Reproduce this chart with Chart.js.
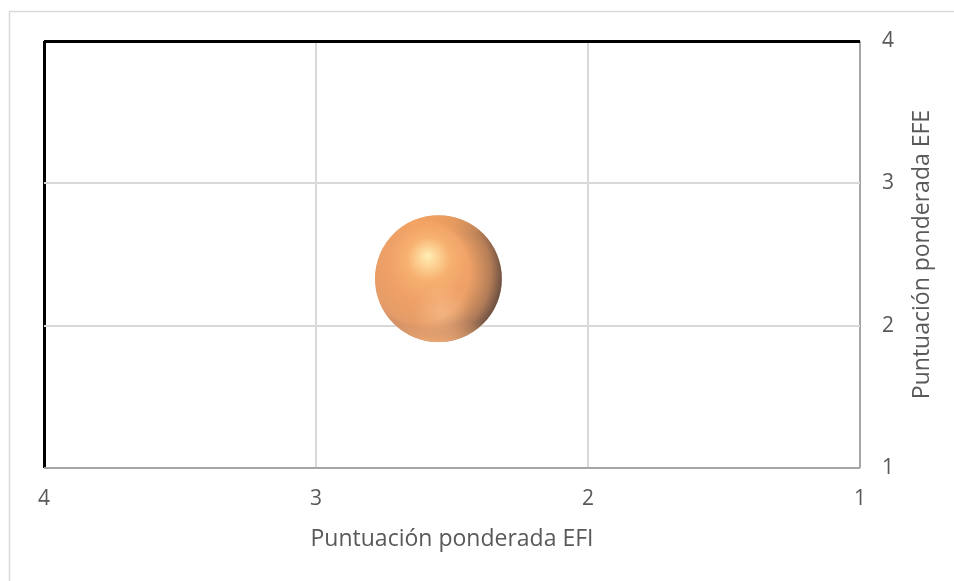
<!DOCTYPE html>
<html>
<head>
<meta charset="utf-8">
<title>Matriz EFI / EFE</title>
<script src="https://cdn.jsdelivr.net/npm/chart.js@4"></script>
<style>
  html, body { margin: 0; padding: 0; background: #ffffff; }
  #wrap { position: relative; width: 954px; height: 581px; }
</style>
</head>
<body>
<div id="wrap"><canvas id="chart" width="954" height="581"></canvas></div>
<script>
// Weighted scores: internal factors (EFI) on x, external factors (EFE) on y
const efiScores = [2.55];
const efeScores = [2.33];
const bubbleRadius = [63.5];
const xTickValues = [4, 3, 2, 1];
const yTickValues = [1, 2, 3, 4];
const xTitle = 'Puntuación ponderada EFI';
const yTitle = 'Puntuación ponderada EFE';

const FONT = '"Open Sans", "Noto Sans", sans-serif';
const TEXT = '#595959';

const points = efiScores.map((x, i) => ({ x, y: efeScores[i], r: bubbleRadius[i] }));

// Glossy sphere shading, painted over each bubble element at its own position
const sphere = {
  id: 'sphere',
  afterDatasetsDraw(chart) {
    const c = chart.ctx;
    chart.getDatasetMeta(0).data.forEach(el => {
      const r = el.options.radius;
      const x = el.x, y = el.y;
      c.save();
      c.beginPath();
      c.arc(x, y, r, 0, Math.PI * 2);
      c.clip();

      // body with highlight
      let g = c.createRadialGradient(x - r * 0.17, y - r * 0.36, 0, x - r * 0.12, y - r * 0.2, r * 1.15);
      g.addColorStop(0, '#FFEDAE');
      g.addColorStop(0.12, '#FDD292');
      g.addColorStop(0.3, '#F6AC68');
      g.addColorStop(0.55, '#EE9C5E');
      g.addColorStop(0.8, '#E6985F');
      g.addColorStop(1, '#D89065');
      c.globalAlpha = 0.95;
      c.fillStyle = g;
      c.fillRect(x - r, y - r, r * 2, r * 2);
      c.globalAlpha = 1;

      // darker limb, strongest on the right
      g = c.createRadialGradient(x - r * 0.3, y - r * 0.1, 0, x - r * 0.3, y - r * 0.1, r * 1.32);
      g.addColorStop(0, 'rgba(70,55,48,0)');
      g.addColorStop(0.6, 'rgba(70,55,48,0)');
      g.addColorStop(0.85, 'rgba(70,55,48,0.3)');
      g.addColorStop(1, 'rgba(60,50,45,0.72)');
      c.fillStyle = g;
      c.fillRect(x - r, y - r, r * 2, r * 2);

      // soft reflection low on the sphere
      g = c.createRadialGradient(x + r * 0.05, y + r * 0.52, 0, x + r * 0.05, y + r * 0.52, r * 0.45);
      g.addColorStop(0, 'rgba(255,205,160,0.45)');
      g.addColorStop(1, 'rgba(255,205,160,0)');
      c.fillStyle = g;
      c.fillRect(x - r, y - r, r * 2, r * 2);

      // light bottom rim
      g = c.createLinearGradient(0, y + r * 0.68, 0, y + r);
      g.addColorStop(0, 'rgba(248,176,118,0)');
      g.addColorStop(1, 'rgba(248,176,118,0.85)');
      c.fillStyle = g;
      c.fillRect(x - r, y + r * 0.68, r * 2, r * 0.32);

      // bright top rim
      g = c.createLinearGradient(0, y - r, 0, y - r * 0.7);
      g.addColorStop(0, 'rgba(248,165,95,0.7)');
      g.addColorStop(1, 'rgba(248,165,95,0)');
      c.fillStyle = g;
      c.fillRect(x - r, y - r, r * 2, r * 0.3);
      c.restore();
    });
  }
};

// Outer frame and axis titles
const frame = {
  id: 'frame',
  beforeDraw(chart) {
    const c = chart.ctx;
    c.save();
    c.strokeStyle = '#D9D9D9';
    c.lineWidth = 1.5;
    c.strokeRect(9.5, 11.5, 960, 600);
    c.restore();
  },
  afterDraw(chart) {
    const a = chart.chartArea;
    const c = chart.ctx;
    c.save();
    c.fillStyle = TEXT;
    c.font = '23px ' + FONT;
    c.textAlign = 'center';
    c.textBaseline = 'middle';
    c.fillText(xTitle, (a.left + a.right) / 2, 539);
    c.translate(922, (a.top + a.bottom) / 2);
    c.rotate(-Math.PI / 2);
    c.fillText(yTitle, 0, 0);
    c.restore();
  }
};

const gridColor = ctx => ctx.tick && ctx.tick.value === 4 ? '#000000' : (ctx.tick && ctx.tick.value === 1 ? '#A6A6A6' : '#D9D9D9');
const gridWidth = ctx => ctx.tick && ctx.tick.value === 4 ? 3 : 2;

new Chart(document.getElementById('chart'), {
  type: 'bubble',
  data: {
    datasets: [{
      data: points,
      backgroundColor: 'rgba(0,0,0,0)',
      borderWidth: 0,
      hoverBorderWidth: 0
    }]
  },
  options: {
    responsive: false,
    animation: false,
    events: [],
    layout: { autoPadding: false, padding: { left: 44, top: 41, right: 0, bottom: 0 } },
    plugins: { legend: { display: false }, tooltip: { enabled: false } },
    scales: {
      x: {
        type: 'linear',
        position: 'bottom',
        reverse: true,
        min: 1, max: 4,
        afterBuildTicks(axis) { axis.ticks = xTickValues.map(v => ({ value: v })); },
        afterFit(axis) { axis.height = 113; },
        ticks: { color: TEXT, font: { family: FONT, size: 21 }, padding: 18, maxRotation: 0 },
        grid: { drawTicks: false, color: gridColor, lineWidth: gridWidth },
        border: { display: false }
      },
      y: {
        type: 'linear',
        position: 'right',
        min: 1, max: 4,
        afterBuildTicks(axis) { axis.ticks = yTickValues.map(v => ({ value: v })); },
        afterFit(axis) { axis.width = 94; },
        ticks: { color: TEXT, font: { family: FONT, size: 21 }, padding: 22 },
        grid: { drawTicks: false, color: gridColor, lineWidth: gridWidth },
        border: { display: false }
      }
    }
  },
  plugins: [frame, sphere]
});
</script>
</body>
</html>
